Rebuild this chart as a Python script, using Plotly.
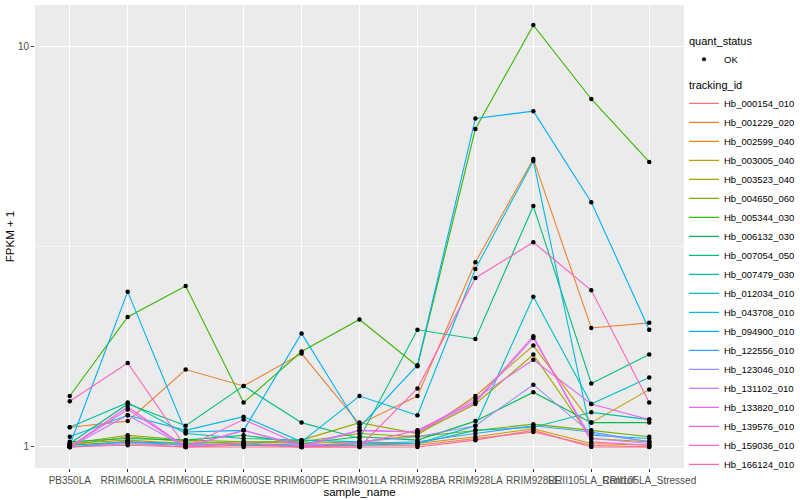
import plotly.graph_objects as go

samples = ["PB350LA", "RRIM600LA", "RRIM600LE", "RRIM600SE", "RRIM600PE", "RRIM901LA",
           "RRIM928BA", "RRIM928LA", "RRIM928LE", "RRII105LA_Control", "RRII105LA_Stressed"]

tracking_ids = ["Hb_000154_010", "Hb_001229_020", "Hb_002599_040", "Hb_003005_040", "Hb_003523_040",
                "Hb_004650_060", "Hb_005344_030", "Hb_006132_030", "Hb_007054_050", "Hb_007479_030",
                "Hb_012034_010", "Hb_043708_010", "Hb_094900_010", "Hb_122556_010", "Hb_123046_010",
                "Hb_131102_010", "Hb_133820_010", "Hb_139576_010", "Hb_159036_010", "Hb_166124_010"]

colors = ["#F8766D", "#EA8331", "#D89000", "#C09B00", "#A3A500", "#7CAE00", "#39B600", "#00BB4E",
          "#00BF7D", "#00C1A3", "#00BFC4", "#00BAE0", "#00B0F6", "#35A2FF", "#9590FF", "#C77CFF",
          "#E76BF3", "#FA62DB", "#FF62BC", "#FF6C91"]

# FPKM per sample (plotted as FPKM + 1)
hb_000154_010 = [0.00, 0.02, 0.00, 0.01, 0.00, 0.01, 0.01, 0.05, 0.09, 0.01, 0.00]
hb_001229_020 = [0.12, 0.16, 0.56, 0.42, 0.71, 0.14, 0.34, 1.89, 4.23, 0.98, 1.04]
hb_002599_040 = [0.01, 0.03, 0.01, 0.02, 0.00, 0.02, 0.02, 0.06, 0.11, 0.02, 0.01]
hb_003005_040 = [0.02, 0.04, 0.02, 0.03, 0.02, 0.03, 0.07, 0.34, 0.79, 0.15, 0.39]
hb_003523_040 = [0.01, 0.06, 0.03, 0.02, 0.04, 0.15, 0.08, 0.28, 0.70, 0.05, 0.03]
hb_004650_060 = [0.02, 0.07, 0.04, 0.03, 0.03, 0.08, 0.06, 0.10, 0.14, 0.10, 0.06]
hb_005344_030 = [0.34, 1.11, 1.52, 0.29, 0.73, 1.08, 0.59, 5.21, 10.28, 6.38, 4.14]
hb_006132_030 = [0.03, 0.05, 0.04, 0.07, 0.02, 0.06, 0.04, 0.16, 0.37, 0.15, 0.15]
hb_007054_050 = [0.02, 0.28, 0.13, 0.42, 0.15, 0.05, 0.96, 0.86, 2.99, 0.44, 0.70]
hb_007479_030 = [0.12, 0.29, 0.08, 0.05, 0.04, 0.03, 0.02, 0.10, 0.12, 0.22, 0.17]
hb_012034_010 = [0.01, 0.03, 0.02, 0.01, 0.01, 0.01, 0.02, 0.13, 1.37, 0.28, 0.49]
hb_043708_010 = [0.06, 0.20, 0.10, 0.19, 0.03, 0.34, 0.20, 1.78, 4.17, 0.07, 0.05]
hb_094900_010 = [0.01, 1.44, 0.09, 0.10, 0.92, 0.12, 0.60, 5.60, 5.88, 3.08, 0.96]
hb_122556_010 = [0.00, 0.03, 0.01, 0.02, 0.01, 0.02, 0.03, 0.08, 0.13, 0.09, 0.03]
hb_123046_010 = [0.00, 0.02, 0.01, 0.02, 0.00, 0.03, 0.06, 0.13, 0.43, 0.08, 0.03]
hb_131102_010 = [0.00, 0.20, 0.00, 0.10, 0.01, 0.10, 0.09, 0.29, 0.87, 0.05, 0.02]
hb_133820_010 = [0.00, 0.24, 0.00, 0.10, 0.00, 0.10, 0.09, 0.32, 0.65, 0.28, 0.17]
hb_139576_010 = [0.00, 0.26, 0.00, 0.17, 0.01, 0.02, 0.10, 0.30, 0.89, 0.03, 0.01]
hb_159036_010 = [0.30, 0.62, 0.00, 0.02, 0.00, 0.00, 0.40, 1.64, 2.24, 1.46, 0.29]
hb_166124_010 = [0.00, 0.01, 0.00, 0.00, 0.00, 0.00, 0.00, 0.04, 0.10, 0.00, 0.00]

series = [hb_000154_010, hb_001229_020, hb_002599_040, hb_003005_040, hb_003523_040,
          hb_004650_060, hb_005344_030, hb_006132_030, hb_007054_050, hb_007479_030,
          hb_012034_010, hb_043708_010, hb_094900_010, hb_122556_010, hb_123046_010,
          hb_131102_010, hb_133820_010, hb_139576_010, hb_159036_010, hb_166124_010]

FONT = "Liberation Sans, Arial, sans-serif"
fig = go.Figure()

# quant_status legend entry
fig.add_trace(go.Scatter(x=[None], y=[None], mode="markers", name="OK",
                         marker=dict(color="black", size=4),
                         legendgroup="quant",
                         legendgrouptitle=dict(text="quant_status", font=dict(size=11, color="black"))))

for tid, col, vals in zip(tracking_ids, colors, series):
    fig.add_trace(go.Scatter(x=samples, y=[v + 1 for v in vals], mode="lines", name=tid,
                             line=dict(color=col, width=1.1),
                             legendgroup="track",
                             legendgrouptitle=dict(text="tracking_id", font=dict(size=11, color="black"))))

all_x, all_y = [], []
for vals in series:
    all_x.extend(samples)
    all_y.extend([v + 1 for v in vals])
fig.add_trace(go.Scatter(x=all_x, y=all_y, mode="markers", showlegend=False,
                         marker=dict(color="black", size=4.5, symbol="circle")))

fig.update_layout(
    width=800, height=500,
    margin=dict(l=35, r=116, t=5, b=32, autoexpand=False),
    paper_bgcolor="white", plot_bgcolor="#EBEBEB",
    font=dict(family=FONT, size=10, color="#4D4D4D"),
    legend=dict(x=1.0, xanchor="left", y=0.955, yanchor="top", traceorder="grouped",
                font=dict(size=9.5, color="black"), tracegroupgap=6,
                itemwidth=30, bgcolor="rgba(0,0,0,0)"),
    shapes=[dict(type="line", xref="paper", x0=0, x1=1, yref="y", y0=10 ** 0.5, y1=10 ** 0.5,
                 line=dict(color="white", width=0.6), layer="below")],
)
fig.update_xaxes(type="category", categoryorder="array", categoryarray=samples,
                 range=[-0.6, 10.6], showgrid=True, gridcolor="white", gridwidth=1.1,
                 tickangle=0, ticks="outside", ticklen=3, tickcolor="#333333",
                 tickfont=dict(size=10, color="#4D4D4D"), zeroline=False, automargin=False,
                 title=dict(text="sample_name", font=dict(size=11.5, color="black"), standoff=0))
fig.update_yaxes(type="log", range=[-0.0525, 1.1025], tickvals=[1, 10], ticktext=["1", "10"],
                 showgrid=True, gridcolor="white", gridwidth=1.1, zeroline=False,
                 ticks="outside", ticklen=3, tickcolor="#333333", automargin=False,
                 tickfont=dict(size=10, color="#4D4D4D"),
                 title=dict(text="FPKM + 1", font=dict(size=11.5, color="black"), standoff=0))

fig.write_html("out.html", config={"displayModeBar": False},
               post_script="document.body.style.margin='0';document.body.style.overflow='hidden';")
